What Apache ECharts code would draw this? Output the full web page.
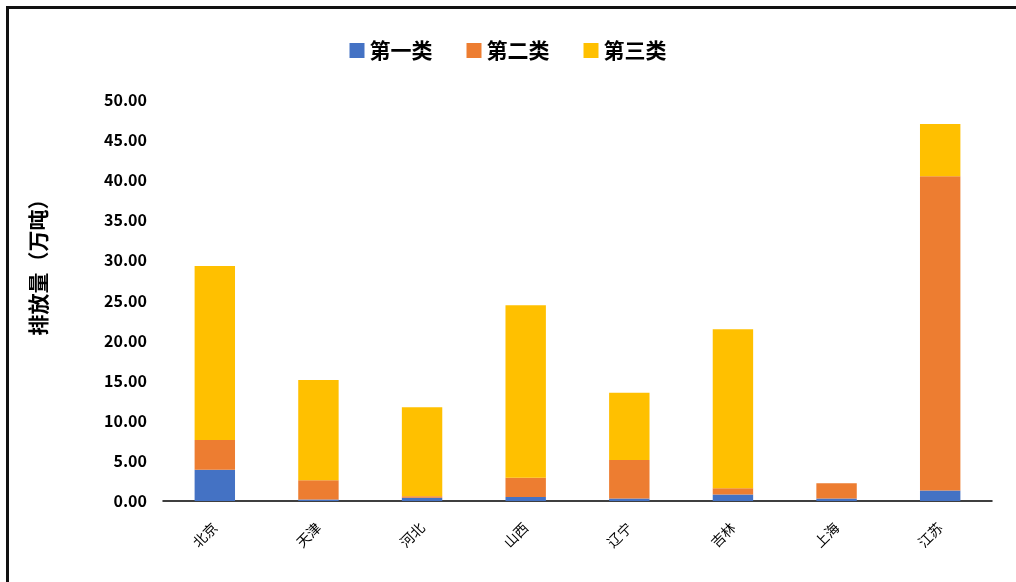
<!DOCTYPE html>
<html>
<head>
<meta charset="utf-8">
<script src="https://cdn.jsdelivr.net/npm/echarts@6/dist/echarts.min.js"></script>
<style>
  html, body { margin: 0; padding: 0; background: #fff; }
  #frame {
    position: absolute; left: 6px; top: 6px; width: 1010px; height: 576px;
    border-top: 3px solid #111; border-left: 3px solid #111; box-sizing: border-box;
  }
  #chart { position: absolute; left: 0; top: 0; width: 1016px; height: 582px; }
</style>
</head>
<body>
<div id="frame"></div>
<div id="chart"></div>
<script>
  var categories = ['北京', '天津', '河北', '山西', '辽宁', '吉林', '上海', '江苏'];
  var seriesNames = ['第一类', '第二类', '第三类'];
  var blueValues = [3.9, 0.2, 0.4, 0.5, 0.3, 0.8, 0.3, 1.3];
  var orangeValues = [3.7, 2.4, 0.2, 2.4, 4.8, 0.8, 1.9, 39.2];
  var yellowValues = [21.7, 12.5, 11.1, 21.5, 8.4, 19.8, 0, 6.5];
  var colors = ['#4472C4', '#ED7D31', '#FFC000'];
  var yTitle = '排放量（万吨）';

  var chart = echarts.init(document.getElementById('chart'));
  var font = 'Noto Sans CJK SC';
  var option = {
    animation: false,
    legend: {
      top: 35,
      left: 'center',
      itemWidth: 15,
      itemHeight: 15,
      itemGap: 34,
      icon: 'rect',
      textStyle: { fontSize: 21, fontWeight: 'bold', color: '#000', fontFamily: font }
    },
    graphic: [{
      type: 'text',
      x: 38, y: 262,
      rotation: Math.PI / 2,
      style: {
        text: yTitle, fontSize: 21, fontWeight: 'bold', fill: '#000', fontFamily: font,
        align: 'center', verticalAlign: 'middle'
      }
    }],
    grid: { left: 163, right: 24, top: 100, bottom: 81 },
    xAxis: {
      type: 'category',
      data: categories,
      axisLine: { lineStyle: { color: '#000', width: 1.5 } },
      axisTick: { show: false },
      axisLabel: { rotate: 45, fontSize: 14, color: '#000', margin: 24, fontFamily: font }
    },
    yAxis: {
      type: 'value',
      min: 0,
      max: 50,
      interval: 5,
      axisLine: { show: false },
      axisTick: { show: false },
      splitLine: { show: false },
      axisLabel: {
        fontSize: 16, fontWeight: 'bold', color: '#000', margin: 16, fontFamily: font,
        formatter: function (v) { return v.toFixed(2); }
      }
    },
    series: [
      { name: seriesNames[0], type: 'bar', stack: 'a', barWidth: '39%', data: blueValues, itemStyle: { color: colors[0] } },
      { name: seriesNames[1], type: 'bar', stack: 'a', data: orangeValues, itemStyle: { color: colors[1] } },
      { name: seriesNames[2], type: 'bar', stack: 'a', data: yellowValues, itemStyle: { color: colors[2] } }
    ]
  };
  chart.setOption(option);
</script>
</body>
</html>
